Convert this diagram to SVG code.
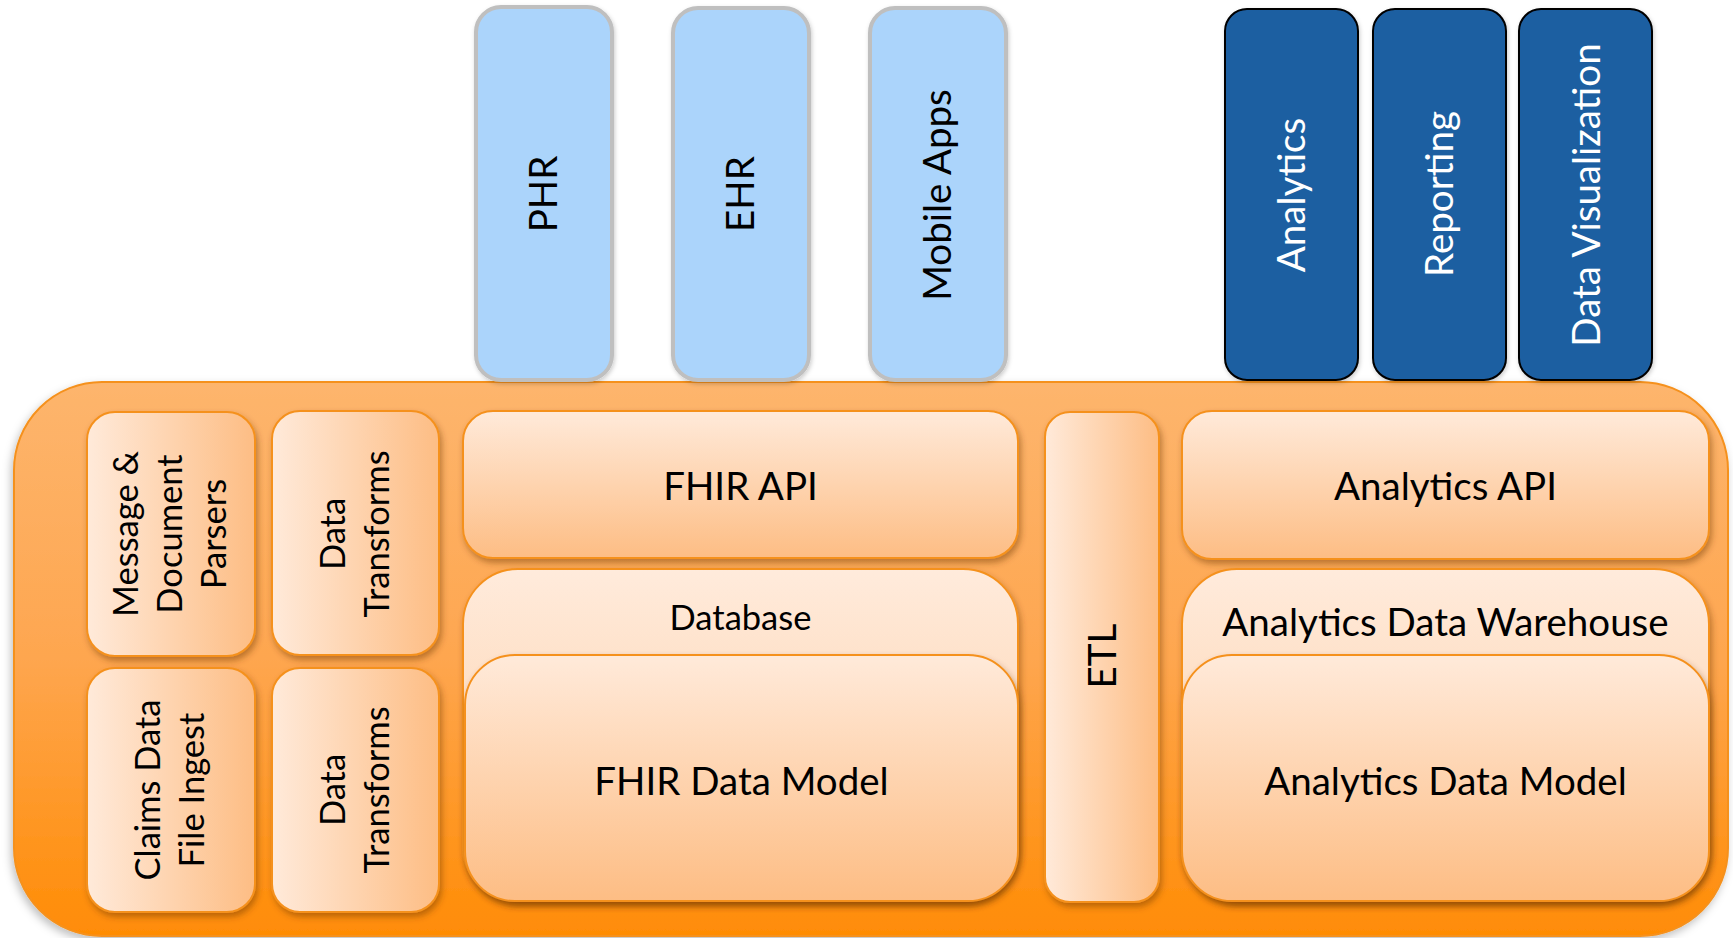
<svg xmlns="http://www.w3.org/2000/svg" width="1733" height="938" viewBox="0 0 1733 938">
<defs>
<linearGradient id="gCont" x1="0" y1="0" x2="0" y2="1">
<stop offset="0" stop-color="#FDB56D"/><stop offset="0.5" stop-color="#FEA64F"/><stop offset="1" stop-color="#FF8C05"/>
</linearGradient>
<linearGradient id="gV" x1="0" y1="0" x2="0" y2="1">
<stop offset="0" stop-color="#FFEADA"/><stop offset="1" stop-color="#FDBD84"/>
</linearGradient>
<linearGradient id="gH" x1="0" y1="0" x2="1" y2="0">
<stop offset="0" stop-color="#FFEADA"/><stop offset="1" stop-color="#FDBD84"/>
</linearGradient>
<linearGradient id="gDb" x1="0" y1="0" x2="0" y2="1">
<stop offset="0" stop-color="#FFEBDC"/><stop offset="1" stop-color="#FDCB9E"/>
</linearGradient>
<filter id="sh" x="-10%" y="-10%" width="125%" height="125%">
<feDropShadow dx="2" dy="4" stdDeviation="3" flood-color="#6b3500" flood-opacity="0.45"/>
</filter>
<filter id="shc" x="-5%" y="-5%" width="110%" height="115%">
<feDropShadow dx="-2" dy="4" stdDeviation="4" flood-color="#000" flood-opacity="0.25"/>
</filter>
<filter id="shb" x="-10%" y="-5%" width="125%" height="110%">
<feDropShadow dx="1" dy="2" stdDeviation="2" flood-color="#000" flood-opacity="0.2"/>
</filter>
</defs>
<style>
.inner{stroke:#F5911E;stroke-width:2}
.lb{fill:#ABD4FB;stroke:#BFBFBF;stroke-width:4}
.db{fill:#1F5FA1;stroke:#000;stroke-width:2}
text{font-family:Lato,"Open Sans","Liberation Sans",sans-serif;fill:#000}
.big{font-size:38.5px}
.sm{font-size:34.5px}
.w{fill:#fff}
</style>

<g id="platform">
<rect x="14" y="382" width="1714" height="554" rx="88" ry="88" fill="url(#gCont)" stroke="#F5911E" stroke-width="2" filter="url(#shc)"/>
</g>

<g id="phr"><rect class="lb" x="476" y="7" width="136" height="373" rx="25" filter="url(#shb)"/>
<text class="big" transform="translate(557,194) rotate(-90)" text-anchor="middle">PHR</text></g>
<g id="ehr"><rect class="lb" x="673" y="8" width="136" height="372" rx="25" filter="url(#shb)"/>
<text class="big" transform="translate(754,194) rotate(-90)" text-anchor="middle">EHR</text></g>
<g id="mobile-apps"><rect class="lb" x="870" y="8" width="136" height="372" rx="25" filter="url(#shb)"/>
<text class="big" transform="translate(951,195) rotate(-90)" text-anchor="middle">Mobile Apps</text></g>

<g id="analytics"><rect class="db" x="1225" y="9" width="133" height="371" rx="22" filter="url(#shb)"/>
<text class="big w" transform="translate(1305,195) rotate(-90)" text-anchor="middle">Analytics</text></g>
<g id="reporting"><rect class="db" x="1373" y="9" width="133" height="371" rx="22" filter="url(#shb)"/>
<text class="big w" transform="translate(1453,194) rotate(-90)" text-anchor="middle">Reporting</text></g>
<g id="data-visualization"><rect class="db" x="1519" y="9" width="133" height="371" rx="22" filter="url(#shb)"/>
<text class="big w" transform="translate(1600,195) rotate(-90)" text-anchor="middle">Data Visualization</text></g>

<g id="parsers"><rect class="inner" x="87" y="412" width="168" height="244" rx="28" fill="url(#gH)" filter="url(#sh)"/>
<text class="sm" transform="translate(138,534) rotate(-90)" text-anchor="middle">Message &amp;</text>
<text class="sm" transform="translate(182,534) rotate(-90)" text-anchor="middle">Document</text>
<text class="sm" transform="translate(226,534) rotate(-90)" text-anchor="middle">Parsers</text></g>
<g id="data-transforms-1"><rect class="inner" x="272" y="411" width="167" height="244" rx="28" fill="url(#gH)" filter="url(#sh)"/>
<text class="sm" transform="translate(345,534) rotate(-90)" text-anchor="middle">Data</text>
<text class="sm" transform="translate(389,534) rotate(-90)" text-anchor="middle">Transforms</text></g>
<g id="claims-ingest"><rect class="inner" x="87" y="668" width="168" height="244" rx="28" fill="url(#gH)" filter="url(#sh)"/>
<text class="sm" transform="translate(160,790) rotate(-90)" text-anchor="middle">Claims Data</text>
<text class="sm" transform="translate(204,790) rotate(-90)" text-anchor="middle">File Ingest</text></g>
<g id="data-transforms-2"><rect class="inner" x="272" y="668" width="167" height="244" rx="28" fill="url(#gH)" filter="url(#sh)"/>
<text class="sm" transform="translate(345,790) rotate(-90)" text-anchor="middle">Data</text>
<text class="sm" transform="translate(389,790) rotate(-90)" text-anchor="middle">Transforms</text></g>

<g id="fhir-api"><rect class="inner" x="463" y="411" width="555" height="147" rx="30" fill="url(#gV)" filter="url(#sh)"/>
<text class="big" x="740.5" y="500" text-anchor="middle">FHIR API</text></g>
<g id="database"><rect class="inner" x="463" y="569" width="555" height="332" rx="55" fill="url(#gDb)" filter="url(#sh)"/>
<text class="sm" x="740.5" y="630" text-anchor="middle">Database</text></g>
<g id="fhir-data-model"><rect class="inner" x="465" y="655" width="553" height="246" rx="50" fill="url(#gV)" filter="url(#sh)"/>
<text class="big" x="741.5" y="795" text-anchor="middle">FHIR Data Model</text></g>

<g id="etl"><rect class="inner" x="1045" y="412" width="114" height="490" rx="25" fill="url(#gH)" filter="url(#sh)"/>
<text class="big" transform="translate(1116,656) rotate(-90)" text-anchor="middle">ETL</text></g>

<g id="analytics-api"><rect class="inner" x="1182" y="411" width="527" height="148" rx="30" fill="url(#gV)" filter="url(#sh)"/>
<text class="big" x="1445.5" y="500" text-anchor="middle">Analytics API</text></g>
<g id="analytics-dw"><rect class="inner" x="1182" y="569" width="527" height="332" rx="55" fill="url(#gDb)" filter="url(#sh)"/>
<text class="big" x="1445.5" y="636" text-anchor="middle">Analytics Data Warehouse</text></g>
<g id="analytics-data-model"><rect class="inner" x="1182" y="655" width="527" height="246" rx="50" fill="url(#gV)" filter="url(#sh)"/>
<text class="big" x="1445.5" y="795" text-anchor="middle">Analytics Data Model</text></g>

<g id="connectors"/>
</svg>
